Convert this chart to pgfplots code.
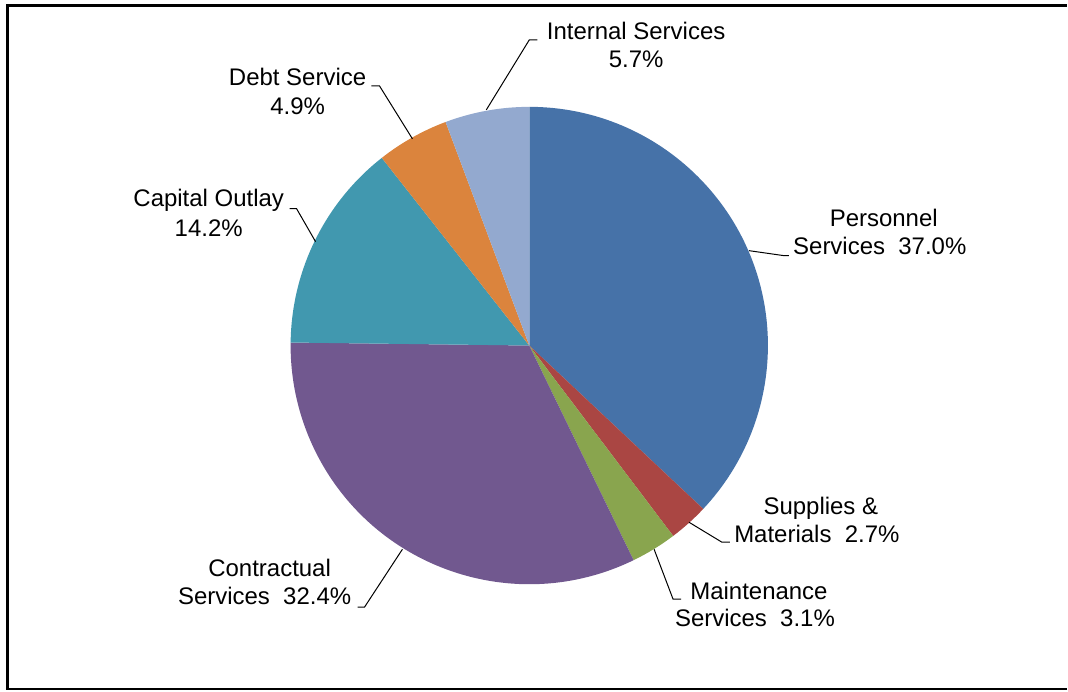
\documentclass[border=0pt]{standalone}
\usepackage{fontspec}
\setmainfont{Liberation Sans}
\usepackage{pgfplots}
\usepackage{pgfplotstable}
\pgfplotsset{compat=1.18}

\definecolor{cPers}{HTML}{4672A8}
\definecolor{cSupp}{HTML}{AA4643}
\definecolor{cMaint}{HTML}{89A54E}
\definecolor{cContr}{HTML}{71588F}
\definecolor{cCap}{HTML}{4198AF}
\definecolor{cDebt}{HTML}{DB843D}
\definecolor{cInt}{HTML}{93A9CF}

\pgfplotstableread{
name value color
Personnel 37.0 cPers
Supplies 2.7 cSupp
Maintenance 3.1 cMaint
Contractual 32.4 cContr
Capital 14.2 cCap
Debt 4.9 cDebt
Internal 5.7 cInt
}\piedata

\tikzset{lbl/.style={anchor=base, inner sep=0pt, font=\fontsize{12}{14}\selectfont}}

\begin{document}
\begin{tikzpicture}
\begin{axis}[
  hide axis, scale only axis,
  width=534pt, height=346pt,
  xmin=0, xmax=1068, ymin=0, ymax=692,
  clip=false,
]
% invisible frame to fix the bounding box
\path (axis cs:0,0) rectangle (axis cs:1068,692);
% border
\draw[line width=1.5pt, line cap=butt] (axis cs:7.5,2) -- (axis cs:7.5,686.5) -- (axis cs:1068,686.5);
\draw[line width=1pt, line cap=butt] (axis cs:6,2) -- (axis cs:1068,2);

% pie slices from the table
\pgfplotstablegetrowsof{\piedata}
\pgfmathtruncatemacro{\N}{\pgfplotsretval-1}
\def\angstart{90}
\pgfplotsforeachungrouped \i in {0,...,\N}{%
  \pgfplotstablegetelem{\i}{value}\of\piedata \let\v\pgfplotsretval
  \pgfplotstablegetelem{\i}{color}\of\piedata \let\c\pgfplotsretval
  \pgfmathsetmacro{\angend}{\angstart-3.6*\v}%
  \edef\temp{\noexpand\fill[\c] (axis cs:530,346) -- ++(\angstart:119.5pt) arc[start angle=\angstart, end angle=\angend, radius=119.5pt] -- cycle;}%
  \temp
  \global\let\angstart\angend
}

% leader lines
\draw[black, line width=0.5pt] (axis cs:487,582) -- (axis cs:530,652) -- (axis cs:538,652);
\draw[black, line width=0.5pt] (axis cs:372,606) -- (axis cs:380,606) -- (axis cs:413,553);
\draw[black, line width=0.5pt] (axis cs:290,483) -- (axis cs:297,483) -- (axis cs:316,450);
\draw[black, line width=0.5pt] (axis cs:750,441) -- (axis cs:785,436) -- (axis cs:790,436);
\draw[black, line width=0.5pt] (axis cs:690,169) -- (axis cs:723,149) -- (axis cs:731,149);
\draw[black, line width=0.5pt] (axis cs:655,142) -- (axis cs:674,92) -- (axis cs:682,92);
\draw[black, line width=0.5pt] (axis cs:403,142) -- (axis cs:365,84) -- (axis cs:358,84);

% labels
\node[lbl] at (axis cs:637,652) {Internal Services};
\node[lbl] at (axis cs:637,624) {5.7\%};
\node[lbl] at (axis cs:298,606) {Debt Service};
\node[lbl] at (axis cs:298,577) {4.9\%};
\node[lbl] at (axis cs:209,485) {Capital Outlay};
\node[lbl] at (axis cs:209,455) {14.2\%};
\node[lbl] at (axis cs:885,465) {Personnel};
\node[lbl] at (axis cs:881,437) {Services~~37.0\%};
\node[lbl] at (axis cs:822,177) {Supplies \&};
\node[lbl] at (axis cs:818,149) {Materials~~2.7\%};
\node[lbl] at (axis cs:760,92) {Maintenance};
\node[lbl] at (axis cs:756,65) {Services~~3.1\%};
\node[lbl] at (axis cs:270,115) {Contractual};
\node[lbl] at (axis cs:265,87) {Services~~32.4\%};
\end{axis}
\end{tikzpicture}
\end{document}
